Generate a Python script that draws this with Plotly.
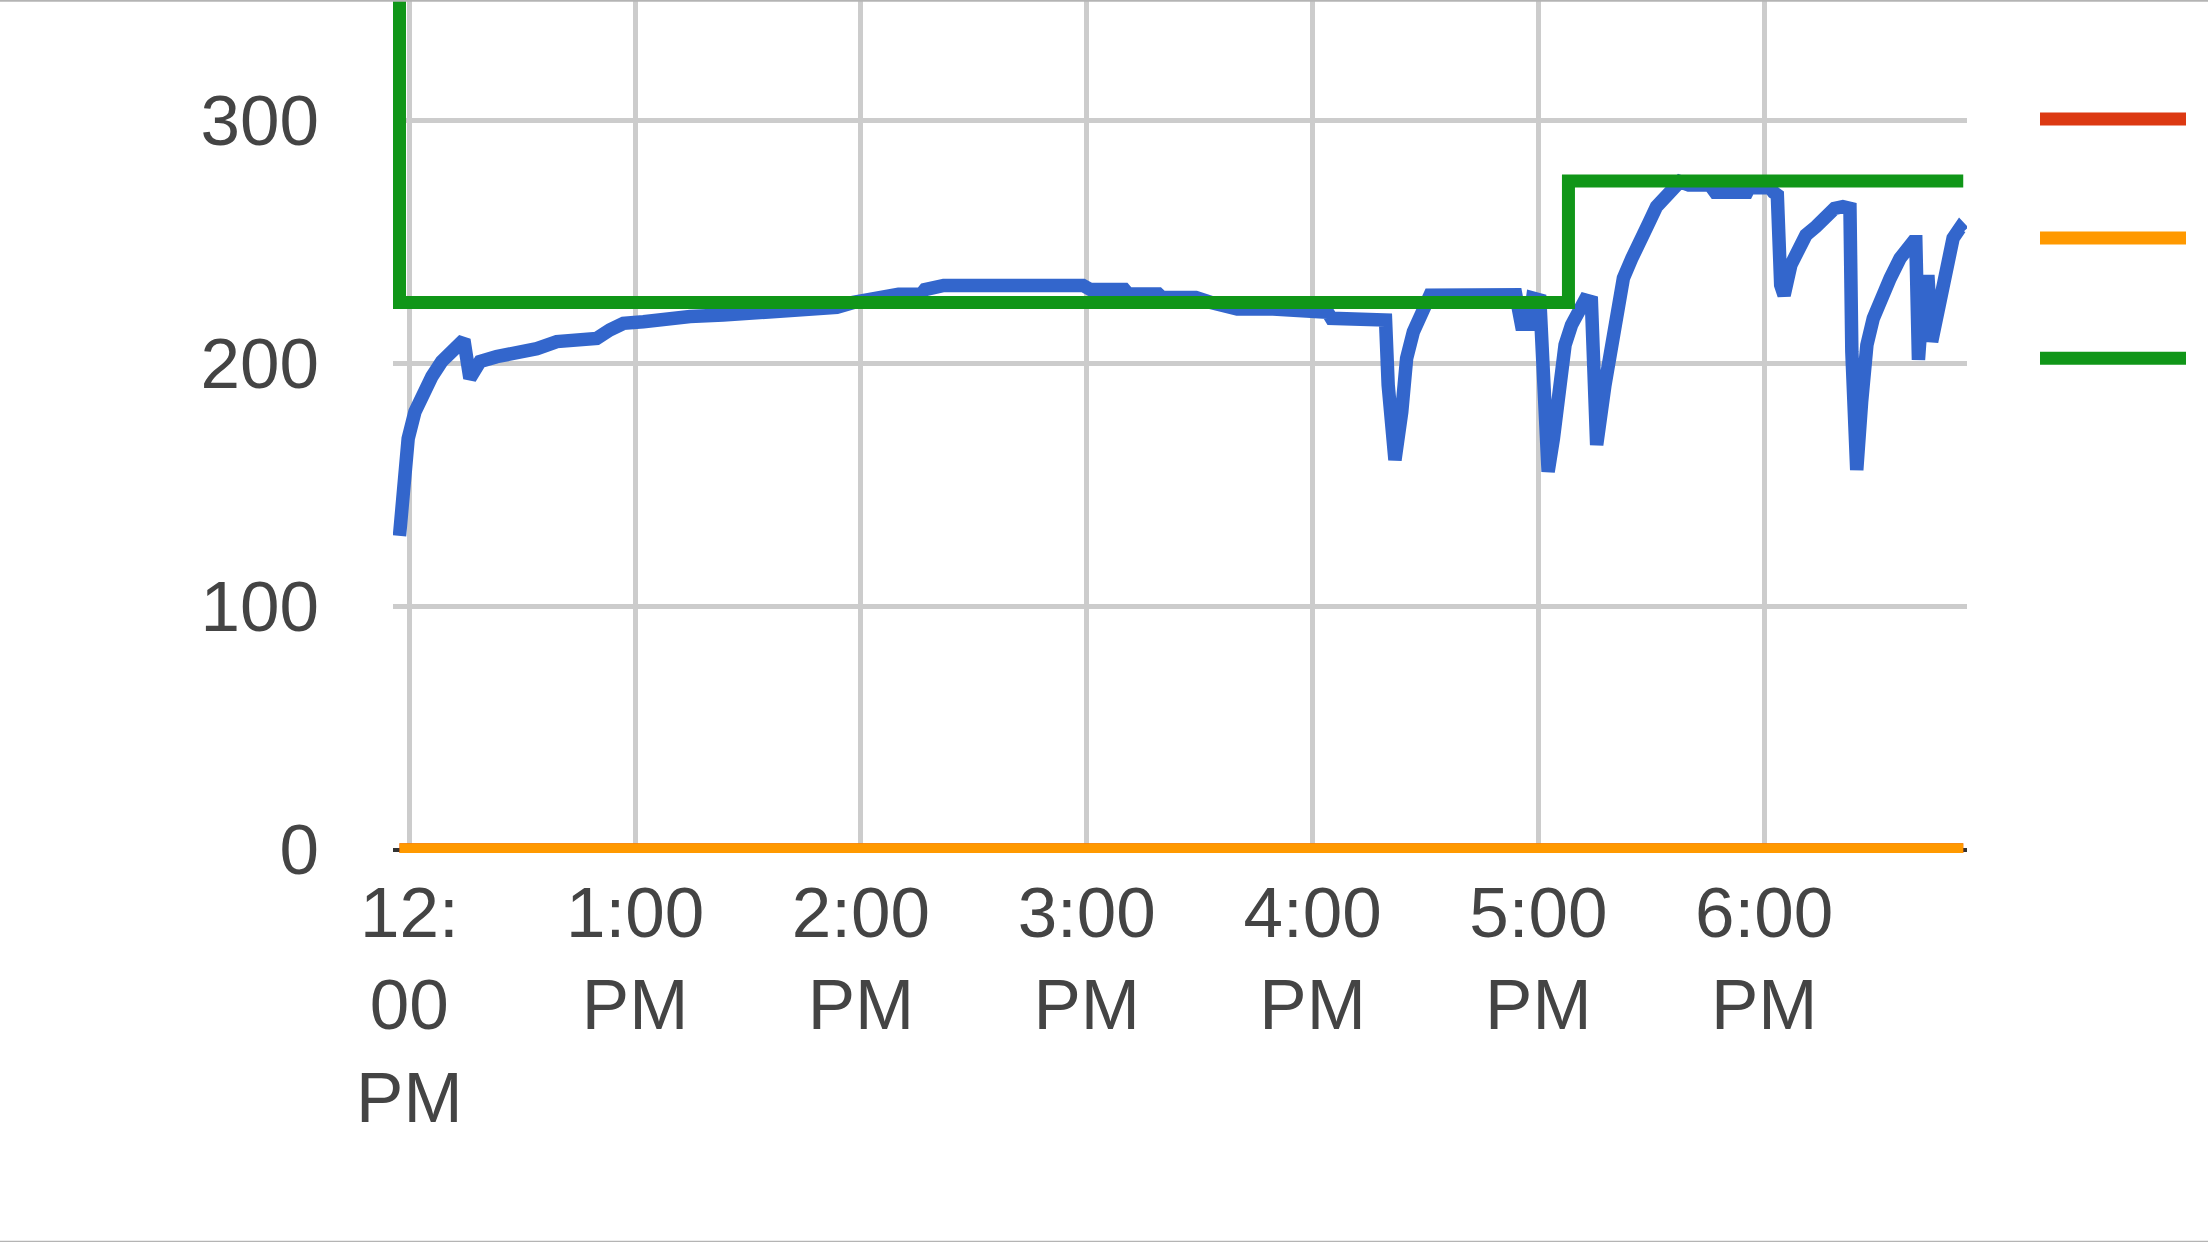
import pandas as pd
import plotly.graph_objects as go

# ---- data (minutes after 12:00 PM) ----
BASE = pd.Timestamp("2024-01-01 12:00:00")

blue_minutes = [-2.6, -1.6, -0.3, 1.5, 3.7, 6.0, 8.6, 11.3, 13.5, 14.5,
                16.1, 18.8, 23.2, 28.5, 33.9, 39.2, 44.5, 49.8, 53.3, 56.9,
                62.2, 67.5, 74.6, 83.4, 96.7, 105.6, 113.6, 118.0, 124.5, 130,
                136, 137, 142, 179, 181, 190, 191, 199, 200, 209,
                213, 220, 229.5, 233.5, 239.3, 244, 245, 253, 258.6, 259.4,
                260.1, 261.9, 263.7, 265.0, 266.8, 269.0, 271.2, 294, 295.5, 297.5,
                298.5, 300.4, 301.3, 302.6, 304.0, 305.3, 307.1, 308.8, 311.0, 312.4,
                314.1, 314.6, 315.5, 317.7, 319.0, 320.4, 322.6, 324.8, 327.0, 329.3,
                331.4, 334.1, 336.8, 337.6, 340, 345.6, 347, 355.4, 356, 361.6,
                362.5, 363.5, 364.4, 365.3, 367.1, 368.9, 371.1, 373.8, 376.4, 378.7,
                380.9, 382.8, 383.3, 384.6, 385.9, 387.3, 389.0, 391.3, 393.5, 396.1,
                398.3, 399.6, 400.3, 401.0, 402.5, 403.6, 404.5, 407.1, 408.5, 410.2,
                412.0, 412.9]
blue_values = [129, 154, 169, 180, 188, 194.5, 200.7, 204.8, 209.6, 209.6,
               193.8, 200.7, 202.7, 204, 206, 208.9, 208.9, 210.2, 213.7, 216.4,
               217.1, 218.2, 219.2, 219.8, 221.2, 222.6, 223, 225, 226.7, 228.4,
               228.4, 230.3, 232, 232, 230.3, 230.3, 228.5, 228.5, 227, 227,
               225, 222.3, 222.3, 222.3, 222.3, 221, 218.5, 218.5, 217.8, 217.8,
               191, 160.2, 180, 202, 213, 219.8, 228, 228.2, 216, 216,
               226.8, 226, 191, 155.4, 169, 191, 207.5, 215.7, 222, 226,
               225.3, 171.9, 166.4, 191, 202, 218.5, 235, 243, 251.4, 257.5,
               264.4, 269.2, 272.6, 274.7, 273.3, 273.3, 270.3, 270.3, 272.2, 272.2,
               270.3, 269.2, 232.2, 228, 240.4, 247.2, 252.7, 256.2, 260.3, 263.7,
               264.4, 263.7, 204.8, 156.1, 184.2, 207.5, 218.5, 228, 235, 243.1,
               248.6, 250, 250, 201.4, 233.6, 233.6, 208.9, 229.4, 241.8, 251.4,
               255.5, 254]

green_minutes = [-2.6, -2.6, 308.0, 412.9]
green_values = [400, 225, 275, 275]

red_minutes = [-2.6, 412.9]
red_values = [0, 0]
orange_minutes = [-2.6, 412.9]
orange_values = [0, 0]

tick_hours = [0, 1, 2, 3, 4, 5, 6]
tick_labels = ["12:<br>00<br>PM", "1:00<br>PM", "2:00<br>PM", "3:00<br>PM",
               "4:00<br>PM", "5:00<br>PM", "6:00<br>PM"]
y_ticks = [0, 100, 200, 300]
y_labels = ["0", "100", "200", "300"]

x_range_minutes = [-4.33, 413.9]
y_range = [-1.44, 349.4]


def to_time(mins):
    return [BASE + pd.Timedelta(minutes=m) for m in mins]


BLUE, RED, ORANGE, GREEN = "#3366cc", "#dc3912", "#ff9900", "#109618"

fig = go.Figure()
fig.add_trace(go.Scatter(x=to_time(blue_minutes), y=blue_values, mode="lines",
                         line=dict(color=BLUE, width=13.5), name="Series 1"))
fig.add_trace(go.Scatter(x=to_time(red_minutes), y=red_values, mode="lines",
                         line=dict(color=RED, width=12.5), name="Series 2"))
fig.add_trace(go.Scatter(x=to_time(orange_minutes), y=orange_values, mode="lines",
                         line=dict(color=ORANGE, width=12.5), name="Series 3"))
fig.add_trace(go.Scatter(x=to_time(green_minutes), y=green_values, mode="lines",
                         line=dict(color=GREEN, width=13, shape="hv"), name="Series 4"))

W, H = 2208, 1242
L, R, T = 393, 2208 - 1967, 0
B = H - 852.7
pw, ph = W - L - R, H - T - B

def px_x(px):
    return (px - L) / pw

def px_y(py):
    return (H - B - py) / ph

shapes = []
# legend samples (text is outside the visible area)
for col, py in [(RED, 119), (ORANGE, 238), (GREEN, 358)]:
    shapes.append(dict(type="line", xref="paper", yref="paper",
                       x0=px_x(2040), x1=px_x(2186), y0=px_y(py), y1=px_y(py),
                       line=dict(color=col, width=13)))
# thin frame lines at top and bottom of the picture
for py in [0.8, 1241.2]:
    shapes.append(dict(type="line", xref="paper", yref="paper",
                       x0=px_x(0), x1=px_x(W), y0=px_y(py), y1=px_y(py),
                       line=dict(color="#b4b4b4", width=2)))

font = dict(family="Liberation Sans, Arial, sans-serif", size=71, color="#444444")

fig.update_layout(
    width=W, height=H,
    margin=dict(l=L, r=R, t=T, b=B, pad=0),
    paper_bgcolor="white", plot_bgcolor="white",
    showlegend=False,
    font=font,
    shapes=shapes,
    xaxis=dict(type="date", range=to_time(x_range_minutes),
               tickvals=[BASE + pd.Timedelta(hours=h) for h in tick_hours],
               ticktext=tick_labels, tickfont=font,
               showgrid=True, gridcolor="#cccccc", gridwidth=5,
               zeroline=False, showline=False, ticks="", ticklabelstandoff=12),
    yaxis=dict(range=y_range, tickvals=y_ticks, ticktext=y_labels, tickfont=font,
               showgrid=True, gridcolor="#cccccc", gridwidth=5,
               zeroline=True, zerolinecolor="#333333", zerolinewidth=4,
               showline=False, ticks="", ticklabelstandoff=73),
)

fig.write_html("out.html",
               config={"displayModeBar": False},
               post_script="document.body.style.margin='0px';document.body.style.overflow='hidden';")
